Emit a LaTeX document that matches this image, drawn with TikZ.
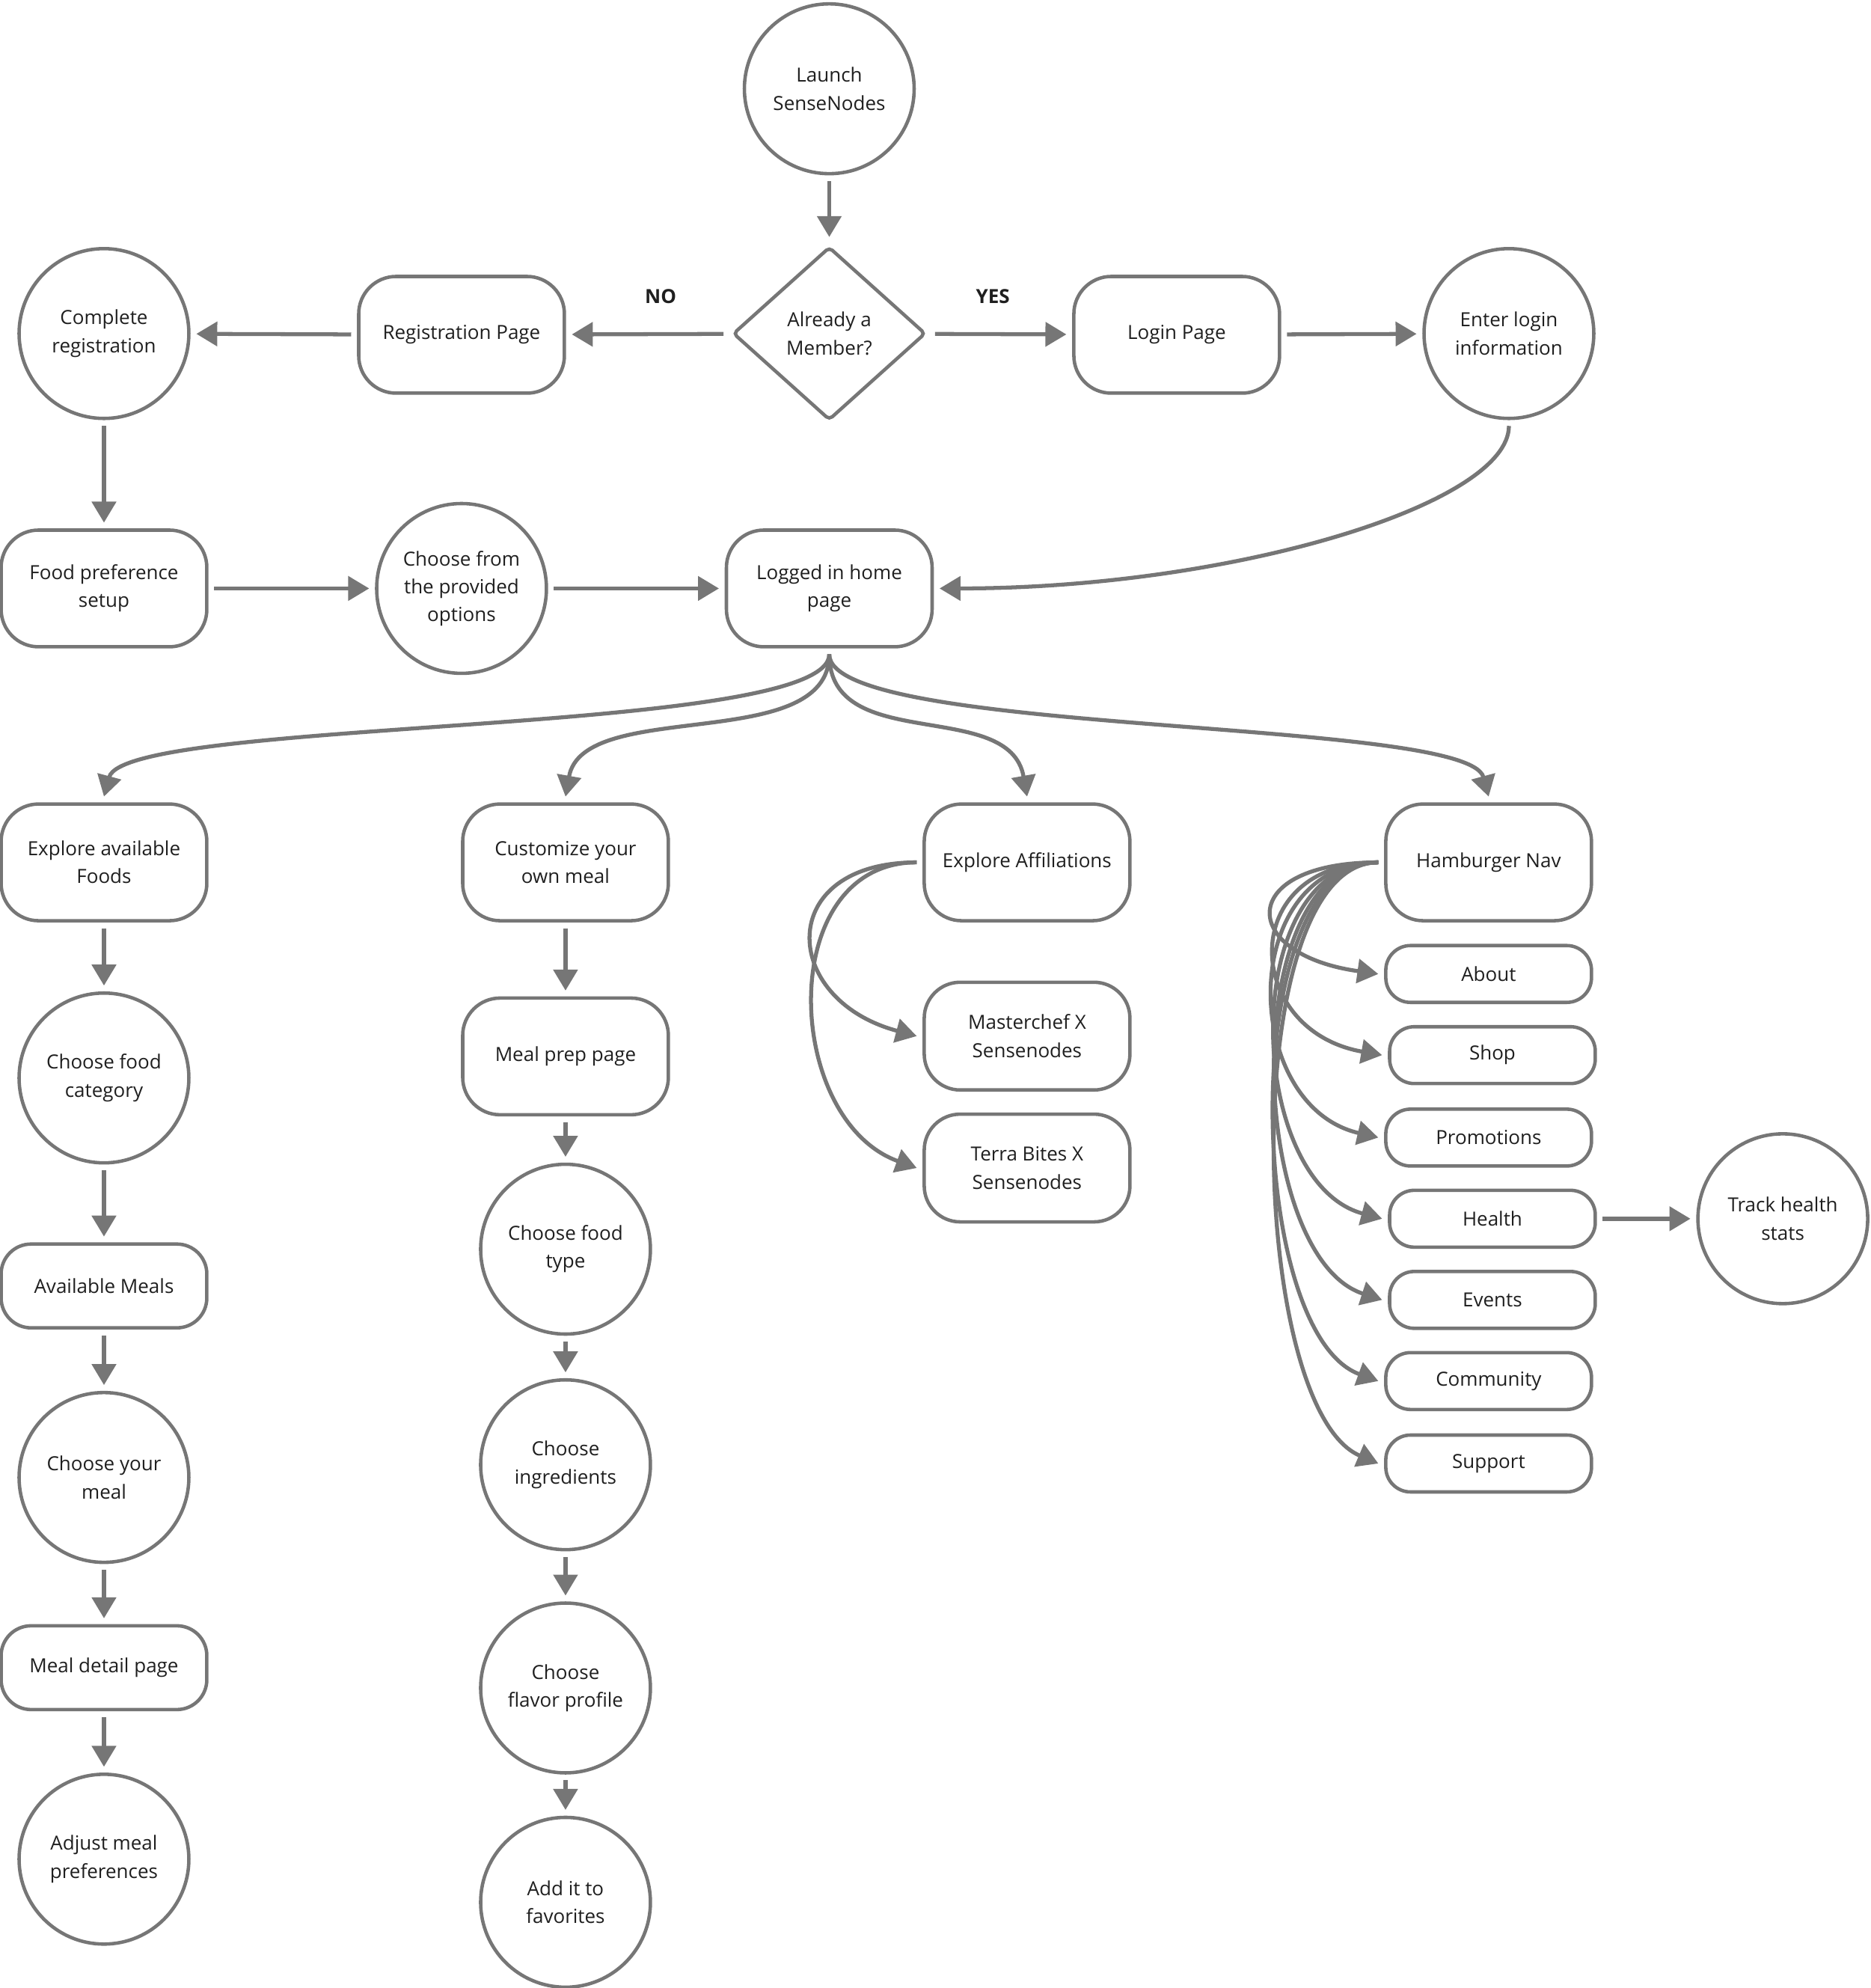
\documentclass[tikz,border=0pt]{standalone}
\usepackage{fontspec}
\setmainfont{Open Sans}
\usetikzlibrary{arrows.meta,shapes.geometric}
\definecolor{edgegray}{HTML}{767676}
\definecolor{ink}{HTML}{1F1F1F}

\begin{document}
\begin{tikzpicture}[x = 0.01695cm, y = 0.01695cm, font = \fontsize{7.4}{10.6}\selectfont, text = ink,
            circ/.style = {circle, draw = edgegray, line width = 1.3pt, minimum size = 2.27cm, inner sep = 0pt, align = center, outer sep = 0.1cm},
            box/.style = {rectangle, rounded corners = 0.5cm, draw = edgegray, line width = 1.3pt, minimum width = 2.75cm, minimum height = 1.56cm, inner sep = 0pt, align = center, outer sep = 0.1cm},
            midbox/.style = {box, rounded corners = 0.4cm, minimum height = 1.12cm},
            affbox/.style = {box, rounded corners = 0.48cm, minimum height = 1.44cm},
            navbox/.style = {box, rounded corners = 0.33cm, minimum height = 0.76cm},
            decision/.style = {diamond, draw = edgegray, line width = 1.3pt, minimum width = 2.64cm, minimum height = 2.38cm, inner sep = 0pt, align = center, outer sep = 0.1cm, rounded corners = 1.5pt},
            arr/.style = {draw = edgegray, line width = 1.5pt, -{Triangle[length = 2.8mm, width = 3.2mm]}},
            lbl/.style = {font = \fontsize{7.4}{10.6}\selectfont\bfseries}]
            \useasboundingbox (0,0) rectangle (1475,-1567.6);

            \node[circ] (launch) at (654,-70) {Launch\\SenseNodes};
            \node[decision] (member) at (654,-263) {Already a\\Member?};
            \node[box] (reg) at (364,-264) {Registration Page};
            \node[circ] (complete) at (82,-263) {Complete\\registration};
            \node[box] (login) at (928,-264) {Login Page};
            \node[circ] (enter) at (1190,-263) {Enter login\\information};
            \node[lbl] (no) at (521,-234) {NO};
            \node[lbl] (yes) at (783,-234) {YES};

            \node[box] (pref) at (82,-464) {Food preference\\setup};
            \node[circ] (options) at (364,-464) {Choose from\\the provided\\options};
            \node[box] (home) at (654,-464) {Logged in home\\page};

            \node[box] (foods) at (82,-680) {Explore available\\Foods};
            \node[box] (custom) at (446,-680) {Customize your\\own meal};
            \node[box] (affil) at (810,-680) {Explore Affiliations};
            \node[box] (ham) at (1174,-680) {Hamburger Nav};

            \node[circ] (category) at (82,-850) {Choose food\\category};
            \node[midbox] (meals) at (82,-1014) {Available Meals};
            \node[circ] (meal) at (82,-1165) {Choose your\\meal};
            \node[midbox] (detail) at (82,-1315) {Meal detail page};
            \node[circ] (adjust) at (82,-1466) {Adjust meal\\preferences};

            \node[box] (prep) at (446,-833) {Meal prep page};
            \node[circ] (ftype) at (446,-985) {Choose food\\type};
            \node[circ] (ingr) at (446,-1155) {Choose\\ingredients};
            \node[circ] (flavor) at (446,-1331) {Choose\\flavor profile};
            \node[circ] (fav) at (446,-1500) {Add it to\\favorites};

            \node[affbox] (chef) at (810,-817) {Masterchef X\\Sensenodes};
            \node[affbox] (terra) at (810,-921) {Terra Bites X\\Sensenodes};

            \node[navbox] (about) at (1174,-768) {About};
            \node[navbox] (shop) at (1177,-832) {Shop};
            \node[navbox] (promo) at (1174,-897) {Promotions};
            \node[navbox] (health) at (1177,-961) {Health};
            \node[navbox] (events) at (1177,-1025) {Events};
            \node[navbox] (comm) at (1174,-1089) {Community};
            \node[navbox] (support) at (1174,-1154) {Support};
            \node[circ] (track) at (1406,-961) {Track health\\stats};

            \draw[arr] (launch) -- (member);
            \draw[arr] (member) -- (reg);
            \draw[arr] (reg) -- (complete);
            \draw[arr] (member) -- (login);
            \draw[arr] (login) -- (enter);
            \draw[arr] (complete) -- (pref);
            \draw[arr] (pref) -- (options);
            \draw[arr] (options) -- (home);
            \draw[arr] (enter.south) to[out = -90, in = 0, out distance = 1.05cm, in distance = 3.9cm] (home.east);

            \draw[arr] (home.south) to[out = -90, in = 75, out distance = 1.1cm, in distance = 1.1cm] (foods.north);
            \draw[arr] (home.south) to[out = -90, in = 80, out distance = 1.35cm, in distance = 1.35cm] (custom.north);
            \draw[arr] (home.south) to[out = -90, in = 100, out distance = 1.35cm, in distance = 1.35cm] (affil.north);
            \draw[arr] (home.south) to[out = -90, in = 105, out distance = 1.1cm, in distance = 1.1cm] (ham.north);

            \draw[arr] (foods) -- (category);
            \draw[arr] (category) -- (meals);
            \draw[arr] (meals) -- (meal);
            \draw[arr] (meal) -- (detail);
            \draw[arr] (detail) -- (adjust);

            \draw[arr] (custom) -- (prep);
            \draw[arr] (prep) -- (ftype);
            \draw[arr] (ftype) -- (ingr);
            \draw[arr] (ingr) -- (flavor);
            \draw[arr] (flavor) -- (fav);

            \draw[arr] (affil.west) to[out = 180, in = 165, distance = 1.9cm] (chef.west);
            \draw[arr] (affil.west) to[out = 180, in = 160, distance = 1.9cm] (terra.west);

            \foreach \item/\ang in {about/172, shop/170, promo/167, health/165, events/162, comm/160, support/157}
                \draw[arr] (ham.west) to[out = 180, in = \ang, distance = 1.9cm] (\item.west);
            \draw[arr] (health) -- (track);
        \end{tikzpicture}
\end{document}
